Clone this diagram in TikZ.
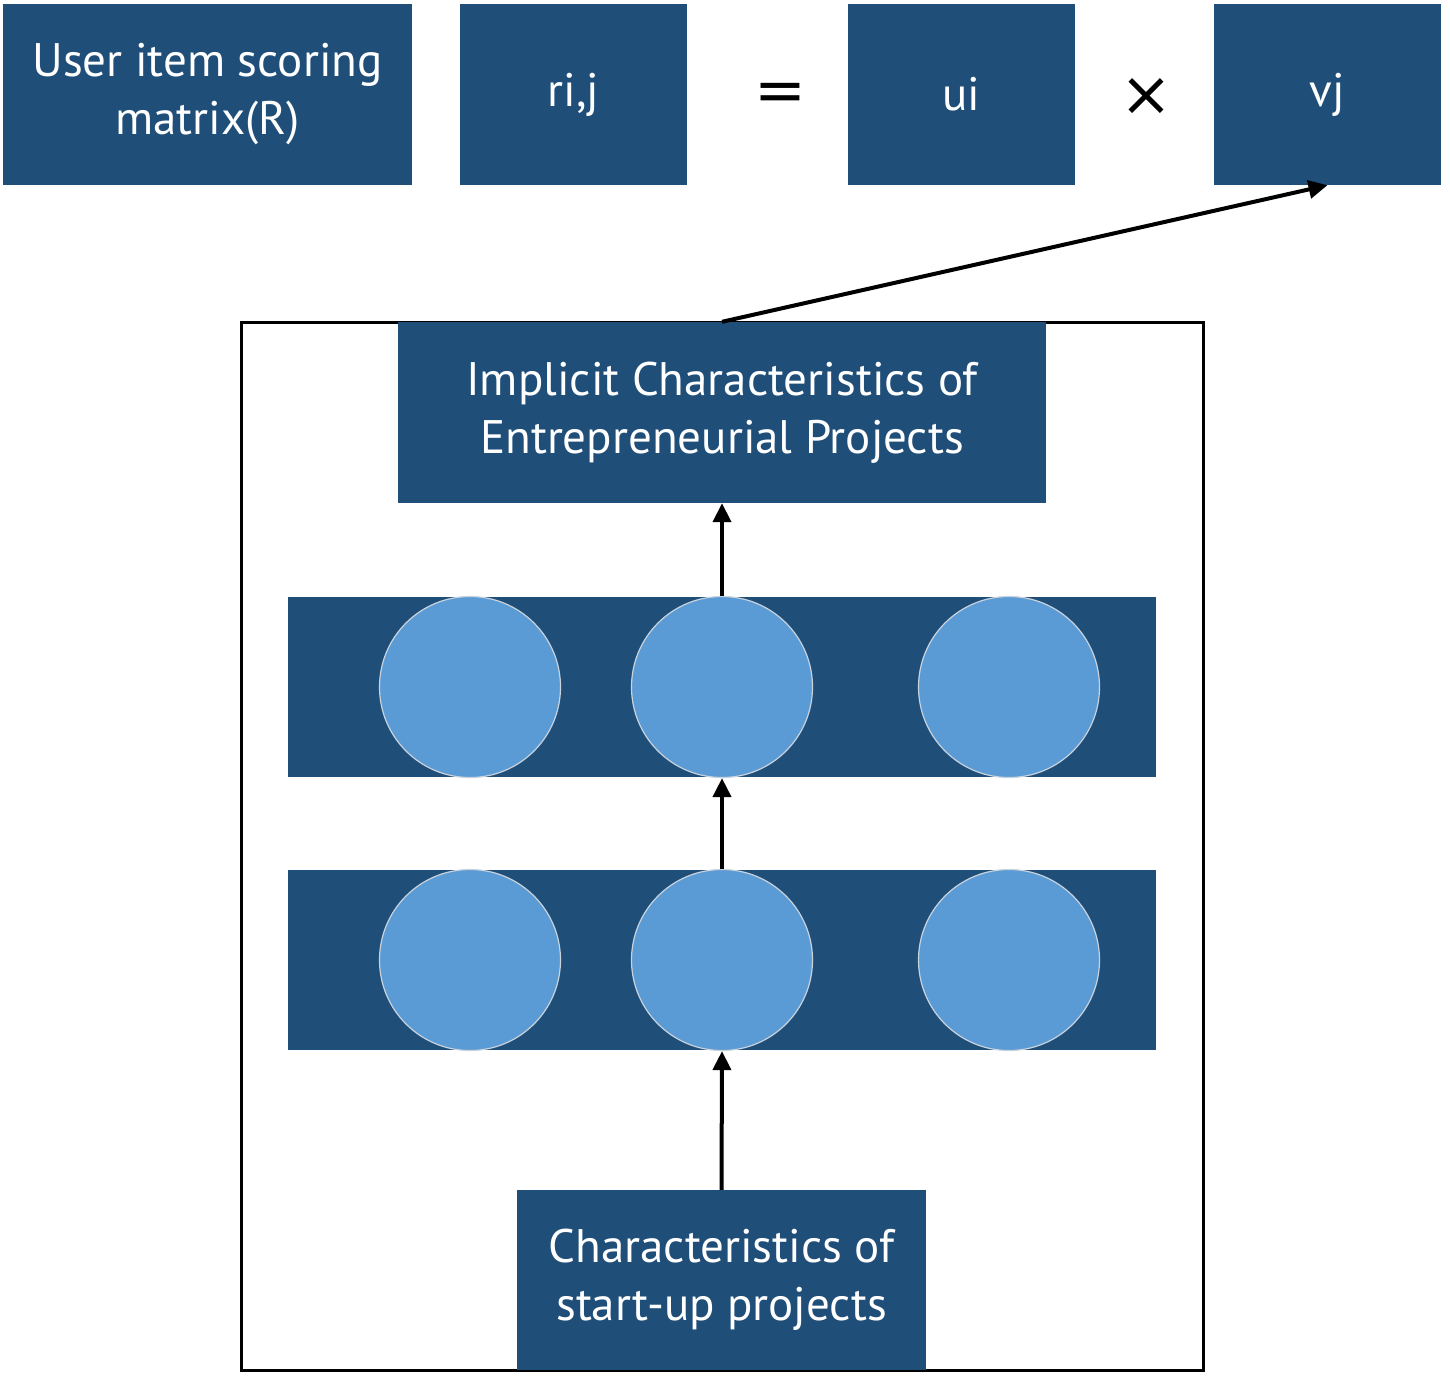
\documentclass[tikz,border=0pt]{standalone}
\usepackage{fontspec}
\setmainfont{PT Sans}
\newfontfamily\opfont{DejaVu Sans}
\usetikzlibrary{arrows.meta}
\definecolor{boxblue}{HTML}{1F4E79}
\definecolor{circblue}{HTML}{5B9BD5}
\definecolor{circedge}{HTML}{C9D3DD}
\tikzset{
  bluebox/.style={fill=boxblue, draw=none, inner sep=0pt, text=white,
    font=\fontsize{47}{58}\selectfont, align=center},
  band/.style={fill=boxblue, draw=none, inner sep=0pt},
  neuron/.style={circle, fill=circblue, draw=circedge, line width=1.2pt, minimum size=181pt, inner sep=0pt},
  opsym/.style={inner sep=0pt, font=\opfont\fontsize{62}{62}\selectfont},
  conn/.style={line width=4pt, -{Triangle[length=19pt, width=18pt]}},
}
\begin{document}
\begin{tikzpicture}[x=1pt, y=-1pt]
\useasboundingbox (0,0) rectangle (1450,1382);
% top row
\node[bluebox, minimum width=409pt, minimum height=181pt] (R) at (207.5,94.5) {User item scoring\\matrix(R)};
\node[bluebox, minimum width=227pt, minimum height=181pt] (rij) at (573.5,94.5) {ri,j};
\node[opsym] (eq) at (780,97) {=};
\node[bluebox, minimum width=227pt, minimum height=181pt] (ui) at (961.5,94.5) {ui};
\node[opsym] (times) at (1146,97) {×};
\node[bluebox, minimum width=227pt, minimum height=181pt] (vj) at (1327.5,94.5) {vj};
% frame
\node[draw=black, line width=3pt, inner sep=0pt, minimum width=962pt, minimum height=1048pt] (frame) at (722,846) {};
% implicit box
\node[bluebox, minimum width=648pt, minimum height=181pt] (impl) at (722,412.5) {Implicit Characteristics of\\Entrepreneurial Projects};
% bands
\node[band, minimum width=868pt, minimum height=180pt] (band1) at (722,687) {};
\node[band, minimum width=868pt, minimum height=180pt] (band2) at (722,960) {};
\node[neuron] (a1) at (470,687) {};
\node[neuron] (a2) at (722,687) {};
\node[neuron] (a3) at (1009,687) {};
\node[neuron] (b1) at (470,960) {};
\node[neuron] (b2) at (722,960) {};
\node[neuron] (b3) at (1009,960) {};
% bottom box
\node[bluebox, minimum width=409pt, minimum height=180pt] (start) at (721.5,1280) {Characteristics of\\start-up projects};
% connectors
\draw[conn] (start.north) -- (b2.south);
\draw[conn] (b2.north) -- (a2.south);
\draw[conn] (a2.north) -- (impl.south);
\draw[conn] (impl.north) -- (vj.south);
\end{tikzpicture}
\end{document}
